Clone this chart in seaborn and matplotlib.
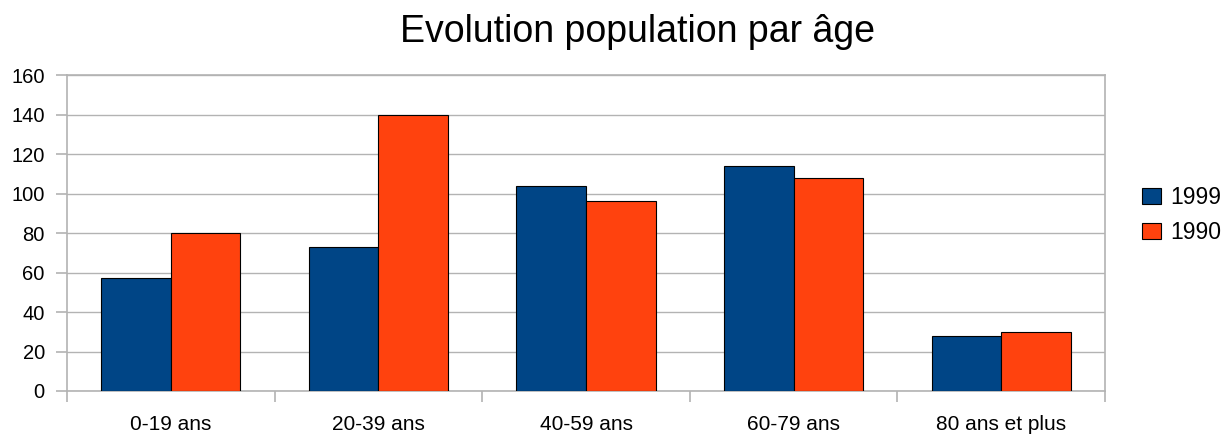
import numpy as np
import pandas as pd
import seaborn as sns
import matplotlib.pyplot as plt
from matplotlib.ticker import MultipleLocator, FixedLocator

# Données
categories = ["0-19 ans", "20-39 ans", "40-59 ans", "60-79 ans", "80 ans et plus"]
annees = ["1999", "1990"]
valeurs_1999 = [57, 73, 104, 114, 28]
valeurs_1990 = [80, 140, 96, 108, 30]
couleurs = ["#004586", "#ff420e"]

df = pd.DataFrame({
    "age": categories * 2,
    "annee": [annees[0]] * len(categories) + [annees[1]] * len(categories),
    "population": valeurs_1999 + valeurs_1990,
})

sns.set_style("white")
plt.rcParams["font.family"] = ["Liberation Sans", "DejaVu Sans"]
plt.rcParams["text.color"] = "black"

fig = plt.figure(figsize=(12.28, 4.34), dpi=100)
ax = fig.add_axes([67 / 1228, 1 - 391 / 434, (1105 - 67) / 1228, (391 - 75) / 434])

sns.barplot(data=df, x="age", y="population", hue="annee", palette=couleurs,
            saturation=1, width=0.67, edgecolor="black", linewidth=0.8, ax=ax, zorder=3)

gris = "#b3b3b3"
ax.set_ylim(0, 160)
ax.set_xlim(-0.5, len(categories) - 0.5)
ax.yaxis.set_major_locator(MultipleLocator(20))
ax.grid(axis="y", color=gris, linewidth=1, zorder=0)
ax.set_axisbelow(True)
for s in ax.spines.values():
    s.set_color(gris)
    s.set_linewidth(1.2)

ax.xaxis.set_minor_locator(FixedLocator(np.arange(-0.5, len(categories), 1.0)))
ax.tick_params(axis="x", which="major", length=0, pad=17, labelsize=15, labelcolor="black")
ax.tick_params(axis="x", which="minor", length=8, width=1.2, color=gris, direction="out", bottom=True)
ax.tick_params(axis="y", length=8, width=1.2, color=gris, direction="out", left=True,
               pad=8, labelsize=14.5, labelcolor="black")
ax.set_xlabel("")
ax.set_ylabel("")

handles, labels = ax.get_legend_handles_labels()
ax.legend(handles, labels, loc="center left", bbox_to_anchor=(1142 / 1228, 1 - 215 / 434),
          bbox_transform=fig.transFigure, frameon=False, fontsize=16.5,
          handlelength=0.82, handleheight=0.7, handletextpad=0.4, labelspacing=0.55,
          borderpad=0, borderaxespad=0)

fig.text(637 / 1228, 1 - 42 / 434, "Evolution population par âge", ha="center",
         va="baseline", fontsize=27, color="black")

fig.savefig("out.png", dpi=100)
